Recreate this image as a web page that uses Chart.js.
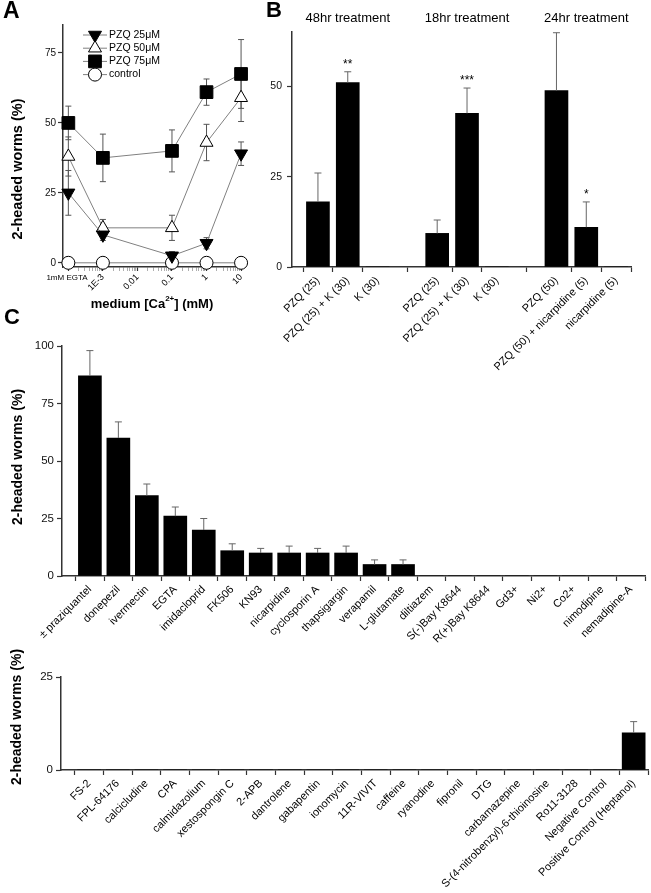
<!DOCTYPE html>
<html>
<head>
<meta charset="utf-8">
<script src="https://cdn.jsdelivr.net/npm/chart.js@4.4.0/dist/chart.umd.min.js"></script>
<style>
  html, body { margin: 0; padding: 0; background: #fff; }
  body { width: 651px; height: 893px; position: relative; overflow: hidden; }
  canvas { position: absolute; }
</style>
</head>
<body>
<canvas id="chartA" width="255" height="315" style="left:0;top:0"></canvas>
<canvas id="chartB" width="396" height="400" style="left:255px;top:0"></canvas>
<canvas id="chartC1" width="651" height="355" style="left:0;top:305px"></canvas>
<canvas id="chartC2" width="651" height="253" style="left:0;top:640px"></canvas>
<script>
const FONT = '"Liberation Sans", Arial, Helvetica, sans-serif';

// ---- panel A: PZQ response vs medium calcium ----
const aDoses = [1e-4, 1e-3, 0.1, 1, 10];          // 1e-4 is where the "1mM EGTA" point sits
const aTickValues = [1e-4, 1e-3, 0.01, 0.1, 1, 10];
const aTickLabels = ['1mM EGTA', '1E-3', '0.01', '0.1', '1', '10'];
const aSeriesNames = ['PZQ 25\u03bcM', 'PZQ 50\u03bcM', 'PZQ 75\u03bcM', 'control'];
const aPzq25 = [25, 10, 2.5, 7, 39];
const aPzq25Err = [8, 2, 1.5, 2, 4.2];
const aPzq50 = [38, 12.5, 12.5, 43, 59];
const aPzq50Err = [7, 3, 4.5, 6.5, 8.5];
const aPzq75 = [50, 37.5, 40, 61, 67.5];
const aPzq75Err = [6, 8.5, 7.5, 4.7, 12.3];
const aControl = [0, 0, 0, 0, 0];
const aYTicks = [0, 25, 50, 75];

// ---- panel B: PZQ + K / nicarpidine ----
const bGroups = ['48hr treatment', '18hr treatment', '24hr treatment'];
const bLabels = ['PZQ (25)', 'PZQ (25) + K (30)', 'K (30)',
                 'PZQ (25)', 'PZQ (25) + K (30)', 'K (30)',
                 'PZQ (50)', 'PZQ (50) + nicarpidine (5)', 'nicarpidine (5)'];
const bValues = [18, 51, 0, 9.3, 42.5, 0, 48.8, 11, 0];
const bErrors = [8, 3, 0, 3.7, 7, 0, 16, 7, 0];
const bStars = ['', '**', '', '', '***', '', '', '*', ''];
const bYTicks = [0, 25, 50];

// ---- panel C (top): screen hits ----
const cTopLabels = ['\u00b1 praziquantel', 'donepezil', 'ivermectin', 'EGTA', 'imidacloprid', 'FK506',
  'KN93', 'nicarpidine', 'cyclosporin A', 'thapsigargin', 'verapamil', 'L-glutamate', 'diltiazem',
  'S(-)Bay K8644', 'R(+)Bay K8644', 'Gd3+', 'Ni2+', 'Co2+', 'nimodipine', 'nemadipine-A'];
const cTopValues = [87, 60, 35, 26, 20, 11, 10, 10, 10, 10, 5, 5, 0, 0, 0, 0, 0, 0, 0, 0];
const cTopErrors = [11, 7, 5, 4, 5, 3, 2, 3, 2, 3, 2, 2, 0, 0, 0, 0, 0, 0, 0, 0];
const cTopYTicks = [0, 25, 50, 75, 100];

// ---- panel C (bottom): inactive compounds ----
const cBotLabels = ['FS-2', 'FPL-64176', 'calcicludine', 'CPA', 'calmidazolium', 'xestospongin C',
  '2-APB', 'dantrolene', 'gabapentin', 'ionomycin', '11R-VIVIT', 'caffeine', 'ryanodine', 'fipronil',
  'DTG', 'carbamazepine', 'S-(4-nitrobenzyl)-6-thioinosine', 'Ro11-3128', 'Negative Control',
  'Positive Control (Heptanol)'];
const cBotValues = [0, 0, 0, 0, 0, 0, 0, 0, 0, 0, 0, 0, 0, 0, 0, 0, 0, 0, 0, 10];
const cBotErrors = [0, 0, 0, 0, 0, 0, 0, 0, 0, 0, 0, 0, 0, 0, 0, 0, 0, 0, 0, 3];
const cBotYTicks = [0, 25];

const YTITLE = '2-headed worms (%)';

// ---------- plugins ----------
function drawErrors(chart, opts) {
  const ctx = chart.ctx, y = chart.scales.y;
  chart.data.datasets.forEach((ds, i) => {
    if (!ds.errors) return;
    const meta = chart.getDatasetMeta(i);
    meta.data.forEach((el, j) => {
      const err = ds.errors[j];
      if (!err) return;
      const v = ds.data[j].y;
      const top = y.getPixelForValue(v + err);
      const bot = y.getPixelForValue(opts.upOnly ? v : v - err);
      ctx.save();
      ctx.strokeStyle = opts.color;
      ctx.lineWidth = opts.width;
      ctx.beginPath();
      ctx.moveTo(el.x, top); ctx.lineTo(el.x, bot);
      ctx.moveTo(el.x - opts.cap, top); ctx.lineTo(el.x + opts.cap, top);
      if (!opts.upOnly) { ctx.moveTo(el.x - opts.cap, bot); ctx.lineTo(el.x + opts.cap, bot); }
      ctx.stroke();
      ctx.restore();
    });
  });
}
const errorBars = {
  id: 'errorBars',
  beforeDatasetsDraw(chart, args, opts) { if (opts.behind) drawErrors(chart, opts); },
  afterDatasetsDraw(chart, args, opts) { if (!opts.behind) drawErrors(chart, opts); }
};

const texts = {
  id: 'texts',
  afterDraw(chart, args, opts) {
    const ctx = chart.ctx;
    (opts.items || []).forEach(t => {
      ctx.save();
      ctx.fillStyle = t.color || '#000';
      ctx.textBaseline = 'middle';
      ctx.translate(t.x, t.y);
      if (t.rotate) ctx.rotate(t.rotate * Math.PI / 180);
      const parts = t.parts || [{ text: t.text }];
      let total = 0;
      parts.forEach(p => { ctx.font = p.sup ? t.supFont : t.font; total += ctx.measureText(p.text).width; });
      let x = t.align === 'left' ? 0 : -total / 2;
      ctx.textAlign = 'left';
      parts.forEach(p => {
        ctx.font = p.sup ? t.supFont : t.font;
        ctx.fillText(p.text, x, p.sup ? -5 : 0);
        x += ctx.measureText(p.text).width;
      });
      ctx.restore();
    });
  }
};

function pointShape(ctx, style, rot, r, x, y, fill) {
  if (Chart.helpers && Chart.helpers.drawPoint) {
    ctx.fillStyle = fill; ctx.strokeStyle = '#000'; ctx.lineWidth = 1;
    Chart.helpers.drawPoint(ctx, { pointStyle: style, rotation: rot, radius: r, borderWidth: 1 }, x, y);
  }
}

const legendA = {
  id: 'legendA',
  afterDatasetsDraw(chart, args, opts) {
    const ctx = chart.ctx;
    chart.data.datasets.forEach((ds, i) => {
      const y = opts.top + i * opts.step;
      ctx.save();
      ctx.strokeStyle = '#808080'; ctx.lineWidth = 1;
      ctx.beginPath(); ctx.moveTo(opts.x0, y); ctx.lineTo(opts.x1, y); ctx.stroke();
      pointShape(ctx, ds.pointStyle, ds.pointRotation || 0, ds.pointRadius, (opts.x0 + opts.x1) / 2, y, ds.pointBackgroundColor);
      ctx.fillStyle = '#000'; ctx.font = '10.5px ' + FONT;
      ctx.textAlign = 'left'; ctx.textBaseline = 'middle';
      ctx.fillText(ds.label, opts.x1 + 2, y);
      ctx.restore();
    });
  }
};

const bPositions = bLabels.map((_, i) => i + Math.floor(i / 3));   // a blank slot between groups

const bAnnotations = {
  id: 'bAnnotations',
  afterDatasetsDraw(chart) {
    const ctx = chart.ctx, x = chart.scales.x, y = chart.scales.y;
    ctx.save();
    ctx.fillStyle = '#000'; ctx.textAlign = 'center';
    ctx.font = '12px ' + FONT; ctx.textBaseline = 'alphabetic';
    bStars.forEach((s, i) => {
      if (!s) return;
      ctx.fillText(s, x.getPixelForValue(bPositions[i]), y.getPixelForValue(bValues[i] + bErrors[i]) - 4);
    });
    ctx.font = '13px ' + FONT; ctx.textBaseline = 'middle';
    bGroups.forEach((g, k) => ctx.fillText(g, x.getPixelForValue(k * 4 + 1), 18));
    ctx.restore();
  }
};

// ---------- shared axis helpers ----------
function yAxis(width, min, max, ticks, size, pad) {
  return {
    min: min, max: max,
    afterBuildTicks: s => { s.ticks = ticks.map(v => ({ value: v })); },
    afterFit: s => { s.width = width; s.paddingTop = 0; s.paddingBottom = 0; },
    border: { display: true, color: '#333', width: 1.5 },
    grid: { drawOnChartArea: false, drawTicks: true, tickLength: 5, tickColor: '#333', tickWidth: 1.2 },
    ticks: { color: '#111', font: { family: FONT, size: size }, padding: pad }
  };
}
function catXAxis(height, labels, min, max, size) {
  return {
    type: 'linear', min: min, max: max, offset: false,
    afterBuildTicks: s => { s.ticks = labels.map((_, i) => ({ value: i })); },
    afterFit: s => { s.height = height; s.paddingLeft = 0; s.paddingRight = 0; },
    border: { display: true, color: '#333', width: 1.5 },
    grid: { drawOnChartArea: false, drawTicks: true, tickLength: 5, tickColor: '#333', tickWidth: 1.2 },
    ticks: { autoSkip: false, minRotation: 45, maxRotation: 45, color: '#000', padding: 2,
             font: { family: FONT, size: size }, callback: v => labels[Math.round(v)] }
  };
}
const baseOpts = {
  responsive: false, animation: false, events: []
};

// ---------- panel A ----------
function aSeries(name, vals, errs, style, rot, r, fill) {
  return {
    label: name, data: aDoses.map((d, i) => ({ x: d, y: vals[i] })), errors: errs,
    borderColor: '#808080', borderWidth: 1, pointStyle: style, pointRotation: rot, pointRadius: r,
    pointBackgroundColor: fill, pointBorderColor: '#000', pointBorderWidth: 1, clip: false, tension: 0
  };
}
const isDecade = v => Math.abs(Math.log10(v) - Math.round(Math.log10(v))) < 1e-6;

new Chart(document.getElementById('chartA'), {
  type: 'line',
  data: {
    datasets: [
      aSeries(aSeriesNames[0], aPzq25, aPzq25Err, 'triangle', 180, 7.5, '#000'),
      aSeries(aSeriesNames[1], aPzq50, aPzq50Err, 'triangle', 0, 7.5, '#fff'),
      aSeries(aSeriesNames[2], aPzq75, aPzq75Err, 'rect', 0, 9, '#000'),
      aSeries(aSeriesNames[3], aControl, null, 'circle', 0, 6.5, '#fff')
    ]
  },
  options: Object.assign({}, baseOpts, {
    layout: { padding: { top: 25, right: 5, bottom: 0, left: 0 } },
    plugins: {
      legend: { display: false }, tooltip: { enabled: false },
      errorBars: { behind: true, color: '#555', width: 1, cap: 3 },
      legendA: { top: 35, step: 13.2, x0: 83, x1: 107 },
      texts: { items: [
        { text: 'A', x: 3, y: 12, align: 'left', font: 'bold 23px ' + FONT },
        { text: YTITLE, x: 18, y: 169, rotate: -90, font: 'bold 14.5px ' + FONT },
        { text: aTickLabels[0], x: 67, y: 278, font: '8px ' + FONT },
        { parts: [{ text: 'medium [Ca' }, { text: '2+', sup: true }, { text: '] (mM)' }],
          x: 152, y: 304, font: 'bold 13px ' + FONT, supFont: 'bold 8px ' + FONT }
      ] }
    },
    scales: {
      x: {
        type: 'logarithmic', min: 7.2e-5, max: 13,
        afterBuildTicks: s => {
          const t = [];
          for (let e = -4; e <= 0; e++) for (let m = 1; m <= 9; m++) t.push({ value: m * Math.pow(10, e) });
          t.push({ value: 10 });
          s.ticks = t;
        },
        afterFit: s => { s.height = 48; s.paddingLeft = 0; s.paddingRight = 0; },
        border: { display: true, color: '#333', width: 1.5 },
        grid: { drawOnChartArea: false, drawTicks: true, tickLength: 4,
                tickColor: c => (c.tick && isDecade(c.tick.value)) ? '#333' : '#999',
                tickWidth: c => (c.tick && isDecade(c.tick.value)) ? 1.2 : 0.8 },
        ticks: {
          autoSkip: false, minRotation: 45, maxRotation: 45, color: '#000', padding: 1,
          font: { family: FONT, size: 9 },
          callback: v => {
            const k = aTickValues.findIndex(t => Math.abs(Math.log10(t) - Math.log10(v)) < 1e-6);
            return k > 0 ? aTickLabels[k] : '';
          }
        }
      },
      y: yAxis(63, -1.5, 85, aYTicks, 10, 2)
    }
  }),
  plugins: [errorBars, legendA, texts]
});

// ---------- panel B ----------
new Chart(document.getElementById('chartB'), {
  type: 'bar',
  data: {
    datasets: [{
      data: bValues.map((v, i) => ({ x: bPositions[i], y: v })), errors: bErrors,
      backgroundColor: '#000', borderWidth: 0, barThickness: 23
    }]
  },
  options: Object.assign({}, baseOpts, {
    layout: { padding: { top: 32, right: 20, bottom: 0, left: 0 } },
    plugins: {
      legend: { display: false }, tooltip: { enabled: false },
      errorBars: { upOnly: true, color: '#666', width: 1, cap: 3.5 },
      texts: { items: [{ text: 'B', x: 11, y: 11, align: 'left', font: 'bold 22px ' + FONT }] }
    },
    scales: {
      x: Object.assign(catXAxis(133, [], -0.87, 10.5, 11), {
        afterBuildTicks: s => { s.ticks = bPositions.map(p => ({ value: p })); },
        ticks: { autoSkip: false, minRotation: 45, maxRotation: 45, color: '#000', padding: 2,
                 font: { family: FONT, size: 11 },
                 callback: v => bLabels[bPositions.indexOf(Math.round(v))] || '' }
      }),
      y: yAxis(37, 0, 65, bYTicks, 10.5, 5)
    }
  }),
  plugins: [errorBars, bAnnotations, texts]
});

// ---------- panel C top ----------
new Chart(document.getElementById('chartC1'), {
  type: 'bar',
  data: {
    datasets: [{
      data: cTopValues.map((v, i) => ({ x: i, y: v })), errors: cTopErrors,
      backgroundColor: '#000', borderWidth: 0, barThickness: 23
    }]
  },
  options: Object.assign({}, baseOpts, {
    layout: { padding: { top: 41, right: 6, bottom: 0, left: 0 } },
    plugins: {
      legend: { display: false }, tooltip: { enabled: false },
      errorBars: { upOnly: true, color: '#666', width: 1, cap: 3.5 },
      texts: { items: [
        { text: 'C', x: 4, y: 13, align: 'left', font: 'bold 22px ' + FONT },
        { text: YTITLE, x: 18, y: 152, rotate: -90, font: 'bold 14px ' + FONT }
      ] }
    },
    scales: {
      x: catXAxis(84, cTopLabels, -0.98, 19.5, 11),
      y: yAxis(62, 0, 100, cTopYTicks, 11.5, 3)
    }
  }),
  plugins: [errorBars, texts]
});

// ---------- panel C bottom ----------
new Chart(document.getElementById('chartC2'), {
  type: 'bar',
  data: {
    datasets: [{
      data: cBotValues.map((v, i) => ({ x: i, y: v })), errors: cBotErrors,
      backgroundColor: '#000', borderWidth: 0, barThickness: 23
    }]
  },
  options: Object.assign({}, baseOpts, {
    layout: { padding: { top: 37, right: 3, bottom: 0, left: 0 } },
    plugins: {
      legend: { display: false }, tooltip: { enabled: false },
      errorBars: { upOnly: true, color: '#666', width: 1, cap: 3.5 },
      texts: { items: [{ text: YTITLE, x: 17, y: 77, rotate: -90, font: 'bold 14px ' + FONT }] }
    },
    scales: {
      x: catXAxis(123, cBotLabels, -0.98, 19.5, 11),
      y: yAxis(61, 0, 25, cBotYTicks, 11.5, 3)
    }
  }),
  plugins: [errorBars, texts]
});
</script>
</body>
</html>
